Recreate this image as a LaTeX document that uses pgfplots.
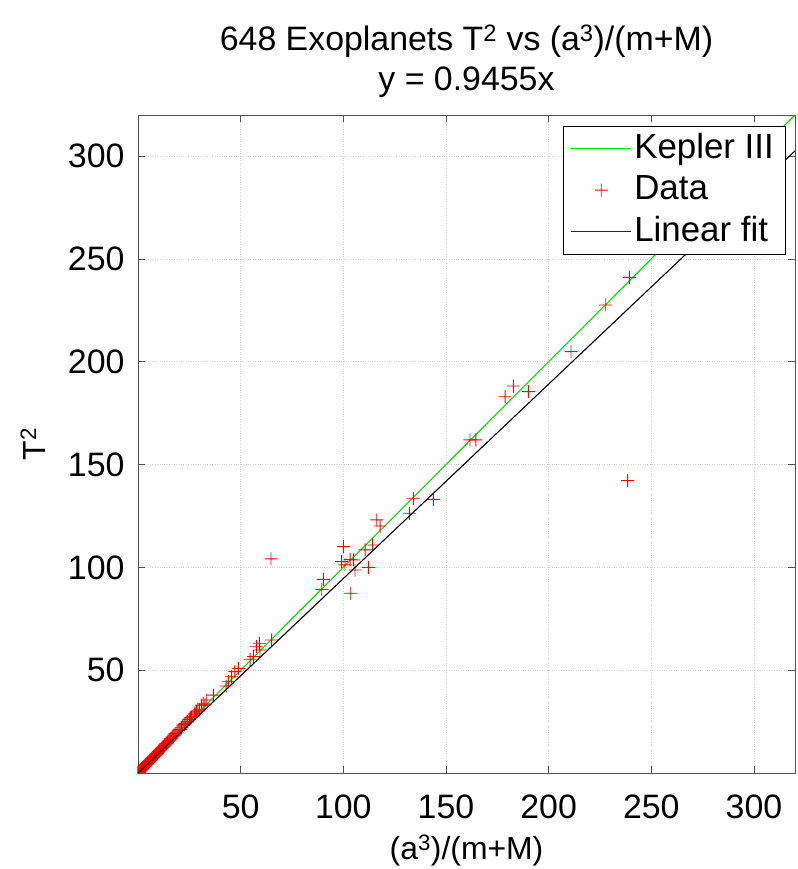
\documentclass[border=0pt]{standalone}
\usepackage{fontspec}
\setmainfont{Liberation Sans}
\usepackage{pgfplots}
\pgfplotsset{compat=1.18}
\definecolor{kgreen}{RGB}{0,225,0}
\definecolor{axgray}{RGB}{80,80,80}
\pgfdeclareplotmark{fplus}{%
  \pgfpathrectangle{\pgfpoint{-6.5bp}{-0.45bp}}{\pgfpoint{13bp}{0.9bp}}%
  \pgfpathrectangle{\pgfpoint{-0.45bp}{-6.5bp}}{\pgfpoint{0.9bp}{13bp}}%
  \pgfusepathqfill}
\begin{document}
\fontsize{34}{40}\selectfont
\begin{tikzpicture}
\begin{axis}[
  scale only axis,
  width=657bp, height=658bp,
  xmin=0, xmax=320, ymin=0, ymax=320,
  xtick={50,100,...,300}, ytick={50,100,...,300},
  tick align=inside,
  major tick length=7bp,
  axis line style={axgray, line width=0.8bp},
  tick style={axgray, line width=0.8bp},
  grid=major,
  grid style={dotted, gray!35, line width=0.7bp},
  clip marker paths=true,
  /pgf/number format/assume math mode=true,
  ticklabel style={font=\fontsize{34}{40}\selectfont},
  xticklabel style={yshift=-10bp},
  yticklabel style={xshift=-2bp},
  title={648 Exoplanets T\textsuperscript{2} vs (a\textsuperscript{3})/(m+M)\\y = 0.9455x},
  title style={font=\fontsize{34}{40}\selectfont, align=center, yshift=0bp},
  xlabel={(a\textsuperscript{3})/(m+M)},
  ylabel={T\textsuperscript{2}},
  xlabel style={yshift=6bp},
  label style={font=\fontsize{32}{38}\selectfont},
  legend style={at={(1,1)}, anchor=north east, xshift=-10bp, yshift=-11bp,
     font=\fontsize{35}{42}\selectfont,
     inner xsep=8bp, inner ysep=6bp, row sep=10bp,
     nodes={inner xsep=3bp, inner ysep=1bp}},
  legend cell align=left,
  clip=true,
]
\addplot[kgreen, line width=1.1bp, no marks,
  legend image code/.code={\fill[fill=kgreen, draw=none] (0bp,-0.6bp) rectangle (60bp,0.6bp);}] coordinates {(0,0) (320,320)};
\addlegendentry{Kepler III}
\addplot[draw=none, fill=red, only marks, mark=fplus,
  mark options={draw=none, fill=red},
  legend image code/.code={\fill[fill=red, draw=none] (23.5bp,-0.45bp) rectangle (36.5bp,0.45bp) (29.55bp,-6.5bp) rectangle (30.45bp,6.5bp);}] table {
x y
0.05 0.06
0.1 0.1
0.12 0.14
0.15 0.16
0.2 0.21
0.25 0.24
0.3 0.3
0.35 0.37
0.4 0.42
0.45 0.46
0.5 0.5
0.55 0.58
0.6 0.62
0.7 0.7
0.8 0.8
0.9 0.95
1.0 1.02
1.1 1.1
1.2 1.2
1.3 1.35
1.4 1.45
1.5 1.5
1.6 1.6
1.75 1.8
1.9 1.95
2.0 2.0
2.1 2.1
2.25 2.3
2.4 2.5
2.55 2.6
2.7 2.7
2.85 2.95
3.0 3.1
3.15 3.2
3.3 3.3
3.45 3.55
3.6 3.7
3.8 3.9
4.0 4.1
4.2 4.3
4.4 4.4
4.6 4.75
4.8 5.0
5.0 5.1
5.2 5.3
5.4 5.6
5.6 5.7
5.8 6.0
6.0 6.2
6.25 6.4
6.5 6.6
6.75 7.0
7.0 7.3
7.25 7.4
7.5 7.6
7.75 8.0
8.0 8.3
8.3 8.5
8.6 8.8
8.9 9.2
9.2 9.5
9.5 9.7
9.8 10.1
10.1 10.5
10.5 10.8
10.8 11.1
11.2 11.6
11.6 12.0
12.0 12.4
12.4 12.7
12.8 13.2
13.1 13.7
13.5 14.2
13.9 14.3
14.3 14.8
14.7 15.4
15.2 15.9
15.6 16.1
16.0 16.8
16.5 17.0
17.0 17.6
17.5 18.4
18.0 19.0
18.5 19.2
19.0 19.8
19.5 20.5
20.0 21.0
20.6 21.2
21.2 22.0
21.8 23.0
22.5 23.5
23.0 24.0
23.5 24.8
24.2 25.0
25.0 26.0
25.5 26.8
26.0 27.2
26.8 27.6
27.5 28.6
27.8 29.2
28.5 29.8
29.2 30.2
30.0 31.0
31.0 33.0
31.8 33.9
32.6 33.1
33.5 35.5
36.7 37.9
42.9 42.3
44.0 44.4
45.6 46.8
47.2 49.3
48.9 50.9
54.6 55.3
56.2 56.6
57.8 61.4
59.1 63.1
59.4 59.8
65.1 64.7
64.8 104.1
89.5 89.3
90.3 94.2
99.2 102.8
100.0 110.1
100.8 101.2
103.3 103.9
103.6 87.4
104.9 103.6
105.7 98.7
110.6 108.5
112.2 100.0
114.3 110.9
116.3 123.1
117.9 120.1
132.2 126.3
134.1 133.6
143.9 133.1
161.7 162.0
164.6 162.0
178.8 183.0
182.8 188.2
190.1 185.5
210.9 204.9
227.8 227.6
239.3 241.0
238.5 142.2
322.0 261.6
};
\addlegendentry{Data}
\addplot[black, line width=1.1bp, no marks,
  legend image code/.code={\fill[fill=black!85, draw=none] (0bp,-0.6bp) rectangle (60bp,0.6bp);}] coordinates {(0,0) (320,302.56)};
\addlegendentry{Linear fit}
\end{axis}
\pgfresetboundingbox
\path ([xshift=-138bp,yshift=-96bp]current axis.south west) rectangle ([xshift=3bp,yshift=115bp]current axis.north east);
\end{tikzpicture}
\end{document}
